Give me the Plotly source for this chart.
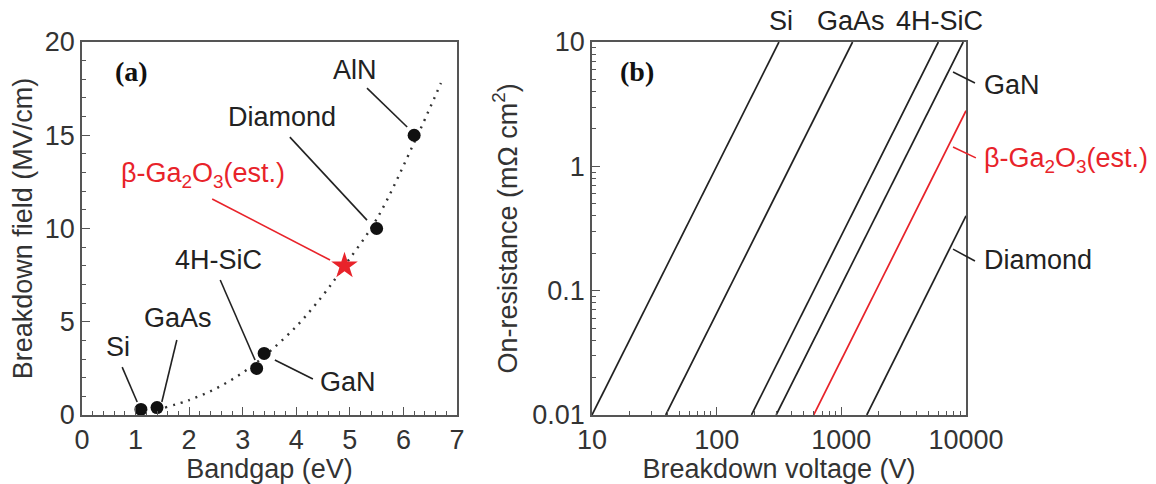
import numpy as np
import plotly.graph_objects as go

# ---------------- Panel (a) data ----------------
materials_a = ["Si", "GaAs", "4H-SiC", "GaN", "Diamond", "AlN"]
bandgap = [1.1, 1.4, 3.26, 3.4, 5.5, 6.2]
breakdown_field = [0.3, 0.4, 2.5, 3.3, 10.0, 15.0]
ga2o3_bandgap = [4.9]
ga2o3_field = [8.0]
trend_x = [1.55, 2.0, 2.5, 3.0, 3.4, 4.0, 4.5, 4.9, 5.5, 6.2, 6.7]
trend_y = [0.4, 0.8, 1.42, 2.27, 3.15, 4.75, 6.43, 8.0, 10.5, 14.6, 17.8]

# label positions (data units) and leader lines
labels_a = ["Si", "GaAs", "4H-SiC", "GaN", "Diamond", "AlN"]
label_a_x = [0.67, 1.79, 2.54, 4.97, 3.73, 5.10]
label_a_y = [3.65, 5.2, 8.3, 1.77, 16.0, 18.5]
leader_a_x = [[0.75, 1.03], [1.77, 1.49], [2.58, 3.23], [3.60, 4.31], [3.88, 5.32], [5.32, 6.07]]
leader_a_y = [[2.57, 0.70], [4.02, 0.70], [7.24, 2.95], [2.95, 1.93], [14.9, 10.45], [17.53, 15.44]]
ga2o3_label_a = [2.26, 12.87]
ga2o3_leader_a_x = [2.43, 4.63]
ga2o3_leader_a_y = [11.58, 8.31]

# ---------------- Panel (b) data ----------------
materials_b = ["Si", "GaAs", "4H-SiC", "GaN", "β-Ga2O3", "Diamond"]
voltage_lines = [[10, 316], [39, 1230], [190, 6000], [300, 9500], [600, 10000], [1600, 10000]]
ron_lines = [[0.01, 10], [0.01, 10], [0.01, 10], [0.01, 10], [0.01, 2.8], [0.01, 0.4]]
line_colors = ["#222222", "#222222", "#222222", "#222222", "#e8232a", "#222222"]

top_labels = ["Si", "GaAs", "4H-SiC"]
top_label_v = [330, 1195, 6170]
side_labels = ["GaN", "β-Ga<sub>2</sub>O<sub>3</sub>(est.)", "Diamond"]
side_label_colors = ["#222222", "#e8232a", "#222222"]
side_label_v = 13400
side_label_r = [4.5, 1.12, 0.177]
side_leader_v = [[7870, 11800], [7870, 12000], [7870, 11800]]
side_leader_r = [[5.74, 4.68], [1.43, 1.17], [0.216, 0.173]]

RED = "#e8232a"
INK = "#222222"
FONT = "Liberation Sans, Arial, sans-serif"
FS = 27
W, H = 1156, 484

x0a, x1a = 82 / W, 457 / W
x0b, x1b = 592 / W, 966 / W
y0d, y1d = 1 - 415 / H, 1 - 42 / H

XR_B = [1, 4]
YR_B = [-2, 1]


def px_b(v):
    return x0b + (np.log10(v) - XR_B[0]) / (XR_B[1] - XR_B[0]) * (x1b - x0b)


def py_b(r):
    return y0d + (np.log10(r) - YR_B[0]) / (YR_B[1] - YR_B[0]) * (y1d - y0d)


fig = go.Figure()

# ---- panel a traces ----
fig.add_trace(go.Scatter(x=trend_x, y=trend_y, mode="lines", line=dict(color="#333", width=2.4, dash="2px,6px", shape="spline"),
                         xaxis="x", yaxis="y", showlegend=False, hoverinfo="skip"))
for lx, ly in zip(leader_a_x, leader_a_y):
    fig.add_trace(go.Scatter(x=lx, y=ly, mode="lines", line=dict(color=INK, width=1.6), xaxis="x", yaxis="y",
                             showlegend=False, hoverinfo="skip"))
fig.add_trace(go.Scatter(x=ga2o3_leader_a_x, y=ga2o3_leader_a_y, mode="lines", line=dict(color=RED, width=1.6),
                         xaxis="x", yaxis="y", showlegend=False, hoverinfo="skip"))
fig.add_trace(go.Scatter(x=bandgap, y=breakdown_field, mode="markers", marker=dict(color="#111", size=13),
                         xaxis="x", yaxis="y", showlegend=False, cliponaxis=False, text=materials_a))
fig.add_trace(go.Scatter(x=ga2o3_bandgap, y=ga2o3_field, mode="markers", marker=dict(color=RED, size=20, symbol="star"),
                         xaxis="x", yaxis="y", showlegend=False, cliponaxis=False))

# ---- panel b traces ----
for vx, ry, c, name in zip(voltage_lines, ron_lines, line_colors, materials_b):
    fig.add_trace(go.Scatter(x=vx, y=ry, mode="lines", line=dict(color=c, width=1.7), name=name,
                             xaxis="x2", yaxis="y2", showlegend=False))

annotations = []
for t, x, y in zip(labels_a, label_a_x, label_a_y):
    annotations.append(dict(text=t, x=x, y=y, xref="x", yref="y", showarrow=False, xanchor="center",
                            font=dict(family=FONT, size=FS, color=INK)))
annotations.append(dict(text="β-Ga<sub>2</sub>O<sub>3</sub>(est.)", x=ga2o3_label_a[0], y=ga2o3_label_a[1],
                        xref="x", yref="y", showarrow=False, xanchor="center",
                        font=dict(family=FONT, size=FS, color=RED)))
annotations.append(dict(text="<b>(a)</b>", x=0.93, y=18.4, xref="x", yref="y", showarrow=False, xanchor="center",
                        font=dict(family="Liberation Serif, Times New Roman, serif", size=28, color="#111")))
annotations.append(dict(text="<b>(b)</b>", x=1.36, y=0.759, xref="x2", yref="y2", showarrow=False, xanchor="center",
                        font=dict(family="Liberation Serif, Times New Roman, serif", size=28, color="#111")))
for t, v in zip(top_labels, top_label_v):
    annotations.append(dict(text=t, x=px_b(v), y=1 - 21 / H, xref="paper", yref="paper", xanchor="center",
                            yanchor="middle", showarrow=False, font=dict(family=FONT, size=FS, color=INK)))
for t, c, r in zip(side_labels, side_label_colors, side_label_r):
    annotations.append(dict(text=t, x=px_b(side_label_v), y=py_b(r), xref="paper", yref="paper", xanchor="left",
                            yanchor="middle", showarrow=False, font=dict(family=FONT, size=FS, color=c)))
# y-axis title of panel (b)
annotations.append(dict(text="On-resistance (mΩ cm<sup>2</sup>)", x=506 / W, y=(y0d + y1d) / 2,
                        xref="paper", yref="paper", xanchor="center", yanchor="middle", textangle=-90,
                        showarrow=False, font=dict(family=FONT, size=FS, color="#333")))

shapes = []
for vx, ry, c in zip(side_leader_v, side_leader_r, [INK, RED, INK]):
    shapes.append(dict(type="line", xref="paper", yref="paper", x0=px_b(vx[0]), x1=px_b(vx[1]),
                       y0=py_b(ry[0]), y1=py_b(ry[1]), line=dict(color=c, width=1.6)))

axis_common = dict(showline=True, mirror=True, linecolor="#555", linewidth=1.5, ticks="inside",
                   tickcolor="#555", tickwidth=1.2, ticklen=8, showgrid=False, zeroline=False,
                   automargin=False,
                   tickfont=dict(family=FONT, size=FS, color="#333"),
                   title_font=dict(family=FONT, size=FS, color="#333"))

fig.update_layout(
    width=W, height=H, margin=dict(l=0, r=0, t=0, b=0, autoexpand=False),
    paper_bgcolor="white", plot_bgcolor="white",
    xaxis=dict(domain=[x0a, x1a], range=[0, 7], dtick=1, anchor="y",
               minor=dict(ticks="inside", dtick=0.2, ticklen=4, tickcolor="#555"),
               title=dict(text="Bandgap (eV)", standoff=2), **axis_common),
    yaxis=dict(domain=[y0d, y1d], range=[0, 20], dtick=5, anchor="x",
               minor=dict(ticks="inside", dtick=1, ticklen=4, tickcolor="#555"),
               title=dict(text="Breakdown field (MV/cm)", standoff=4), **axis_common),
    xaxis2=dict(domain=[x0b, x1b], type="log", range=XR_B, anchor="y2",
                tickvals=[10, 100, 1000, 10000], ticktext=["10", "100", "1000", "10000"],
                minor=dict(ticks="inside", dtick="D1", ticklen=4, tickcolor="#555"),
                title=dict(text="Breakdown voltage (V)", standoff=2), **axis_common),
    yaxis2=dict(domain=[y0d, y1d], type="log", range=YR_B, anchor="x2",
                tickvals=[0.01, 0.1, 1, 10], ticktext=["0.01", "0.1", "1", "10"],
                minor=dict(ticks="inside", dtick="D1", ticklen=4, tickcolor="#555"),
                **axis_common),
    annotations=annotations, shapes=shapes,
)

fig.write_html("out.html")
